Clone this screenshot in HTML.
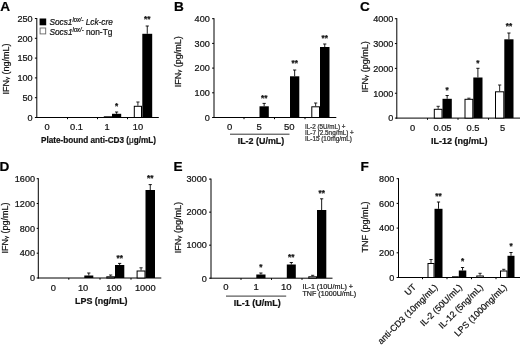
<!DOCTYPE html>
<html lang="en"><head><meta charset="utf-8"><title>Figure</title>
<style>html,body{margin:0;padding:0;background:#fff;}body{width:520px;height:345px;overflow:hidden;}svg{display:block;}text{font-family:"Liberation Sans", Arial, Helvetica, sans-serif;stroke:#111;stroke-width:0.22px;paint-order:stroke fill;}</style>
</head><body>
<svg width="520" height="345" viewBox="0 0 520 345">
<rect width="520" height="345" fill="#fff"/>
<text x="0.2" y="11.0" font-size="13.6" text-anchor="start" font-weight="bold" fill="#000">A</text>
<text x="174.1" y="11.0" font-size="13.6" text-anchor="start" font-weight="bold" fill="#000">B</text>
<text x="360.1" y="11.0" font-size="13.6" text-anchor="start" font-weight="bold" fill="#000">C</text>
<text x="-0.5" y="170.8" font-size="13.6" text-anchor="start" font-weight="bold" fill="#000">D</text>
<text x="173.6" y="171.1" font-size="13.6" text-anchor="start" font-weight="bold" fill="#000">E</text>
<text x="360.6" y="171.0" font-size="13.6" text-anchor="start" font-weight="bold" fill="#000">F</text>
<line x1="36.8" y1="18.0" x2="36.8" y2="118.0" stroke="#000" stroke-width="1.0"/>
<line x1="34.9" y1="117.5" x2="36.8" y2="117.5" stroke="#000" stroke-width="1"/>
<text x="32.599999999999994" y="120.8" font-size="9.1" text-anchor="end" fill="#111">0</text>
<line x1="34.9" y1="97.7" x2="36.8" y2="97.7" stroke="#000" stroke-width="1"/>
<text x="32.599999999999994" y="101.0" font-size="9.1" text-anchor="end" fill="#111">50</text>
<line x1="34.9" y1="77.9" x2="36.8" y2="77.9" stroke="#000" stroke-width="1"/>
<text x="32.599999999999994" y="81.2" font-size="9.1" text-anchor="end" fill="#111">100</text>
<line x1="34.9" y1="58.1" x2="36.8" y2="58.1" stroke="#000" stroke-width="1"/>
<text x="32.599999999999994" y="61.4" font-size="9.1" text-anchor="end" fill="#111">150</text>
<line x1="34.9" y1="38.3" x2="36.8" y2="38.3" stroke="#000" stroke-width="1"/>
<text x="32.599999999999994" y="41.6" font-size="9.1" text-anchor="end" fill="#111">200</text>
<line x1="34.9" y1="18.5" x2="36.8" y2="18.5" stroke="#000" stroke-width="1"/>
<text x="32.599999999999994" y="21.8" font-size="9.1" text-anchor="end" fill="#111">250</text>
<line x1="36.3" y1="117.5" x2="158.8" y2="117.5" stroke="#000" stroke-width="1.0"/>
<line x1="67.5" y1="117.5" x2="67.5" y2="119.2" stroke="#000" stroke-width="1"/>
<line x1="97.5" y1="117.5" x2="97.5" y2="119.2" stroke="#000" stroke-width="1"/>
<line x1="127.5" y1="117.5" x2="127.5" y2="119.2" stroke="#000" stroke-width="1"/>
<text transform="translate(8.5 69) rotate(-90)" font-size="9" text-anchor="middle" fill="#111">IFN<tspan font-size="6.2" dy="0.4">γ</tspan><tspan dy="-0.4"> (ng/mL)</tspan></text>
<text x="47" y="130.4" font-size="9.3" text-anchor="middle" fill="#111">0</text>
<text x="76.5" y="130.4" font-size="9.3" text-anchor="middle" fill="#111">0.1</text>
<text x="107" y="130.4" font-size="9.3" text-anchor="middle" fill="#111">1</text>
<text x="138" y="130.4" font-size="9.3" text-anchor="middle" fill="#111">10</text>
<text x="98.5" y="143.3" font-size="9" text-anchor="middle" font-weight="bold" fill="#111" textLength="115" lengthAdjust="spacingAndGlyphs">Plate-bound anti-CD3 (<tspan font-weight="normal">μ</tspan>g/mL)</text>
<rect x="104.3" y="116.8" width="7.200000000000003" height="0.7" fill="#fff" stroke="#000" stroke-width="1"/>
<rect x="112" y="113.8" width="9.200000000000003" height="3.7" fill="#000"/>
<line x1="116.6" y1="112" x2="116.6" y2="113.8" stroke="#000" stroke-width="0.9"/>
<line x1="115.0" y1="112" x2="118.19999999999999" y2="112" stroke="#000" stroke-width="0.9"/>
<text x="116.6" y="108.5" font-size="8.2" text-anchor="middle" font-weight="bold" fill="#111">*</text>
<rect x="134.3" y="106.3" width="7.199999999999989" height="11.2" fill="#fff" stroke="#000" stroke-width="1"/>
<line x1="137.9" y1="102" x2="137.9" y2="105.8" stroke="#111" stroke-width="0.9"/>
<line x1="136.3" y1="102" x2="139.5" y2="102" stroke="#111" stroke-width="0.9"/>
<rect x="142.3" y="33.8" width="9.899999999999977" height="83.7" fill="#000"/>
<line x1="147.25" y1="26" x2="147.25" y2="33.8" stroke="#000" stroke-width="0.9"/>
<line x1="145.65" y1="26" x2="148.85" y2="26" stroke="#000" stroke-width="0.9"/>
<text x="147.25" y="22.3" font-size="8.2" text-anchor="middle" font-weight="bold" fill="#111">**</text>
<rect x="39.6" y="18.5" width="6.6" height="6.8" fill="#000"/>
<rect x="40.1" y="28" width="5.6" height="5.9" fill="#fff" stroke="#666" stroke-width="0.9"/>
<text x="49.4" y="25.2" font-size="9" text-anchor="start" fill="#111" textLength="63.5" lengthAdjust="spacingAndGlyphs"><tspan font-style="italic">Socs1</tspan><tspan font-style="italic" font-size="6.3" dy="-3">lox/-</tspan><tspan dy="3"> </tspan><tspan font-style="italic">Lck-cre</tspan></text>
<text x="49.4" y="34.5" font-size="9" text-anchor="start" fill="#111" textLength="63" lengthAdjust="spacingAndGlyphs"><tspan font-style="italic">Socs1</tspan><tspan font-style="italic" font-size="6.3" dy="-3">lox/-</tspan><tspan dy="3"> </tspan>non-Tg</text>
<line x1="214" y1="18.2" x2="214" y2="118.0" stroke="#000" stroke-width="1.0"/>
<line x1="212.1" y1="117.5" x2="214" y2="117.5" stroke="#000" stroke-width="1"/>
<text x="209.8" y="120.8" font-size="9.1" text-anchor="end" fill="#111">0</text>
<line x1="212.1" y1="92.8" x2="214" y2="92.8" stroke="#000" stroke-width="1"/>
<text x="209.8" y="96.1" font-size="9.1" text-anchor="end" fill="#111">100</text>
<line x1="212.1" y1="68.1" x2="214" y2="68.1" stroke="#000" stroke-width="1"/>
<text x="209.8" y="71.4" font-size="9.1" text-anchor="end" fill="#111">200</text>
<line x1="212.1" y1="43.400000000000006" x2="214" y2="43.400000000000006" stroke="#000" stroke-width="1"/>
<text x="209.8" y="46.7" font-size="9.1" text-anchor="end" fill="#111">300</text>
<line x1="212.1" y1="18.700000000000003" x2="214" y2="18.700000000000003" stroke="#000" stroke-width="1"/>
<text x="209.8" y="22.0" font-size="9.1" text-anchor="end" fill="#111">400</text>
<line x1="213.5" y1="117.5" x2="336.3" y2="117.5" stroke="#000" stroke-width="1.0"/>
<line x1="244" y1="117.5" x2="244" y2="119.2" stroke="#000" stroke-width="1"/>
<line x1="274.5" y1="117.5" x2="274.5" y2="119.2" stroke="#000" stroke-width="1"/>
<line x1="305" y1="117.5" x2="305" y2="119.2" stroke="#000" stroke-width="1"/>
<text transform="translate(181 61.7) rotate(-90)" font-size="9" text-anchor="middle" fill="#111">IFN<tspan font-size="6.2" dy="0.4">γ</tspan><tspan dy="-0.4"> (pg/mL)</tspan></text>
<text x="229.6" y="130.4" font-size="9.5" text-anchor="middle" fill="#111">0</text>
<text x="259.2" y="130.4" font-size="9.5" text-anchor="middle" fill="#111">5</text>
<text x="289.3" y="130.4" font-size="9.5" text-anchor="middle" fill="#111">50</text>
<line x1="230" y1="134.2" x2="289.5" y2="134.2" stroke="#000" stroke-width="0.8"/>
<text x="261" y="144.4" font-size="9.3" text-anchor="middle" font-weight="bold" fill="#111" textLength="46.6" lengthAdjust="spacingAndGlyphs">IL-2 (U/mL)</text>
<rect x="259.5" y="106.3" width="9.300000000000011" height="11.2" fill="#000"/>
<line x1="264.15" y1="103.4" x2="264.15" y2="106.3" stroke="#000" stroke-width="0.9"/>
<line x1="262.54999999999995" y1="103.4" x2="265.75" y2="103.4" stroke="#000" stroke-width="0.9"/>
<text x="264.15" y="100.5" font-size="8.2" text-anchor="middle" font-weight="bold" fill="#111">**</text>
<rect x="290" y="76.3" width="9.300000000000011" height="41.2" fill="#000"/>
<line x1="294.65" y1="70" x2="294.65" y2="76.3" stroke="#000" stroke-width="0.9"/>
<line x1="293.04999999999995" y1="70" x2="296.25" y2="70" stroke="#000" stroke-width="0.9"/>
<text x="294.65" y="66.39999999999999" font-size="8.2" text-anchor="middle" font-weight="bold" fill="#111">**</text>
<rect x="311.8" y="106.8" width="7.699999999999989" height="10.7" fill="#fff" stroke="#000" stroke-width="1"/>
<line x1="315.65" y1="103" x2="315.65" y2="106.3" stroke="#111" stroke-width="0.9"/>
<line x1="314.04999999999995" y1="103" x2="317.25" y2="103" stroke="#111" stroke-width="0.9"/>
<rect x="320" y="47" width="9.5" height="70.5" fill="#000"/>
<line x1="324.75" y1="44" x2="324.75" y2="47" stroke="#000" stroke-width="0.9"/>
<line x1="323.15" y1="44" x2="326.35" y2="44" stroke="#000" stroke-width="0.9"/>
<text x="324.75" y="40.5" font-size="8.2" text-anchor="middle" font-weight="bold" fill="#111">**</text>
<text x="305" y="128.6" font-size="6.8" text-anchor="start" fill="#333" textLength="40.5" lengthAdjust="spacingAndGlyphs" stroke="none">IL-2 (5U/mL) +</text>
<text x="305" y="135.0" font-size="6.8" text-anchor="start" fill="#333" textLength="48.8" lengthAdjust="spacingAndGlyphs" stroke="none">IL-7 (2.5ng/mL) +</text>
<text x="305" y="141.4" font-size="6.8" text-anchor="start" fill="#333" textLength="47" lengthAdjust="spacingAndGlyphs" stroke="none">IL-15 (10mg/mL)</text>
<line x1="396.8" y1="18.2" x2="396.8" y2="118.6" stroke="#000" stroke-width="1.0"/>
<line x1="394.90000000000003" y1="118.1" x2="396.8" y2="118.1" stroke="#000" stroke-width="1"/>
<text x="393.40000000000003" y="121.4" font-size="9.1" text-anchor="end" fill="#111">0</text>
<line x1="394.90000000000003" y1="93.25" x2="396.8" y2="93.25" stroke="#000" stroke-width="1"/>
<text x="393.40000000000003" y="96.55" font-size="9.1" text-anchor="end" fill="#111">1000</text>
<line x1="394.90000000000003" y1="68.4" x2="396.8" y2="68.4" stroke="#000" stroke-width="1"/>
<text x="393.40000000000003" y="71.7" font-size="9.1" text-anchor="end" fill="#111">2000</text>
<line x1="394.90000000000003" y1="43.55" x2="396.8" y2="43.55" stroke="#000" stroke-width="1"/>
<text x="393.40000000000003" y="46.85" font-size="9.1" text-anchor="end" fill="#111">3000</text>
<line x1="394.90000000000003" y1="18.700000000000003" x2="396.8" y2="18.700000000000003" stroke="#000" stroke-width="1"/>
<text x="393.40000000000003" y="22.0" font-size="9.1" text-anchor="end" fill="#111">4000</text>
<line x1="396.3" y1="118.1" x2="520" y2="118.1" stroke="#000" stroke-width="1.0"/>
<line x1="427.5" y1="118.1" x2="427.5" y2="119.8" stroke="#000" stroke-width="1"/>
<line x1="458" y1="118.1" x2="458" y2="119.8" stroke="#000" stroke-width="1"/>
<line x1="488.5" y1="118.1" x2="488.5" y2="119.8" stroke="#000" stroke-width="1"/>
<text transform="translate(368.0 66.9) rotate(-90)" font-size="9" text-anchor="middle" fill="#111">IFN<tspan font-size="6.2" dy="0.4">γ</tspan><tspan dy="-0.4"> (pg/mL)</tspan></text>
<text x="412.5" y="130.7" font-size="9.3" text-anchor="middle" fill="#111">0</text>
<text x="442.5" y="130.7" font-size="9.3" text-anchor="middle" fill="#111">0.05</text>
<text x="473" y="130.7" font-size="9.3" text-anchor="middle" fill="#111">0.5</text>
<text x="502.5" y="130.7" font-size="9.3" text-anchor="middle" fill="#111">5</text>
<text x="459.2" y="144.2" font-size="9" text-anchor="middle" font-weight="bold" fill="#111" textLength="56.5" lengthAdjust="spacingAndGlyphs">IL-12 (ng/mL)</text>
<rect x="434.3" y="109.3" width="7.699999999999989" height="8.8" fill="#fff" stroke="#000" stroke-width="1"/>
<line x1="438.15" y1="106.3" x2="438.15" y2="108.8" stroke="#111" stroke-width="0.9"/>
<line x1="436.54999999999995" y1="106.3" x2="439.75" y2="106.3" stroke="#111" stroke-width="0.9"/>
<rect x="442.5" y="98.8" width="9.300000000000011" height="19.3" fill="#000"/>
<line x1="447.15" y1="95.5" x2="447.15" y2="98.8" stroke="#000" stroke-width="0.9"/>
<line x1="445.54999999999995" y1="95.5" x2="448.75" y2="95.5" stroke="#000" stroke-width="0.9"/>
<text x="447.15" y="93.0" font-size="8.2" text-anchor="middle" font-weight="bold" fill="#111">*</text>
<rect x="465.0" y="99.3" width="7.800000000000011" height="18.8" fill="#fff" stroke="#000" stroke-width="1"/>
<line x1="468.9" y1="98.2" x2="468.9" y2="98.8" stroke="#111" stroke-width="0.9"/>
<line x1="467.29999999999995" y1="98.2" x2="470.5" y2="98.2" stroke="#111" stroke-width="0.9"/>
<rect x="473.3" y="77.5" width="9.199999999999989" height="40.6" fill="#000"/>
<line x1="477.9" y1="68.3" x2="477.9" y2="77.5" stroke="#000" stroke-width="0.9"/>
<line x1="476.29999999999995" y1="68.3" x2="479.5" y2="68.3" stroke="#000" stroke-width="0.9"/>
<text x="477.9" y="65.5" font-size="8.2" text-anchor="middle" font-weight="bold" fill="#111">*</text>
<rect x="495.5" y="91.8" width="8.300000000000011" height="26.3" fill="#fff" stroke="#000" stroke-width="1"/>
<line x1="499.65" y1="85" x2="499.65" y2="91.3" stroke="#111" stroke-width="0.9"/>
<line x1="498.04999999999995" y1="85" x2="501.25" y2="85" stroke="#111" stroke-width="0.9"/>
<rect x="504.3" y="39.3" width="9.199999999999989" height="78.8" fill="#000"/>
<line x1="508.9" y1="33" x2="508.9" y2="39.3" stroke="#000" stroke-width="0.9"/>
<line x1="507.29999999999995" y1="33" x2="510.5" y2="33" stroke="#000" stroke-width="0.9"/>
<text x="508.9" y="28.900000000000002" font-size="8.2" text-anchor="middle" font-weight="bold" fill="#111">**</text>
<line x1="38.3" y1="178.2" x2="38.3" y2="278.5" stroke="#000" stroke-width="1.0"/>
<line x1="36.699999999999996" y1="278.0" x2="38.3" y2="278.0" stroke="#000" stroke-width="1"/>
<text x="35.0" y="281.3" font-size="9.1" text-anchor="end" fill="#111">0</text>
<line x1="36.699999999999996" y1="253.175" x2="38.3" y2="253.175" stroke="#000" stroke-width="1"/>
<text x="35.0" y="256.48" font-size="9.1" text-anchor="end" fill="#111">400</text>
<line x1="36.699999999999996" y1="228.35" x2="38.3" y2="228.35" stroke="#000" stroke-width="1"/>
<text x="35.0" y="231.65" font-size="9.1" text-anchor="end" fill="#111">800</text>
<line x1="36.699999999999996" y1="203.52499999999998" x2="38.3" y2="203.52499999999998" stroke="#000" stroke-width="1"/>
<text x="35.0" y="206.82" font-size="9.1" text-anchor="end" fill="#111">1200</text>
<line x1="36.699999999999996" y1="178.7" x2="38.3" y2="178.7" stroke="#000" stroke-width="1"/>
<text x="35.0" y="182.0" font-size="9.1" text-anchor="end" fill="#111">1600</text>
<line x1="37.8" y1="278" x2="161.3" y2="278" stroke="#000" stroke-width="1.0"/>
<line x1="68.8" y1="278" x2="68.8" y2="279.7" stroke="#000" stroke-width="1"/>
<line x1="100" y1="278" x2="100" y2="279.7" stroke="#000" stroke-width="1"/>
<line x1="131" y1="278" x2="131" y2="279.7" stroke="#000" stroke-width="1"/>
<text transform="translate(7.6 228) rotate(-90)" font-size="9" text-anchor="middle" fill="#111">IFN<tspan font-size="6.2" dy="0.4">γ</tspan><tspan dy="-0.4"> (pg/mL)</tspan></text>
<text x="53.3" y="290.9" font-size="9.3" text-anchor="middle" fill="#111">0</text>
<text x="83.1" y="290.9" font-size="9.3" text-anchor="middle" fill="#111">10</text>
<text x="114" y="290.9" font-size="9.3" text-anchor="middle" fill="#111">100</text>
<text x="145.3" y="290.9" font-size="9.3" text-anchor="middle" fill="#111">1000</text>
<text x="101.3" y="304" font-size="9" text-anchor="middle" font-weight="bold" fill="#111" textLength="52.5" lengthAdjust="spacingAndGlyphs">LPS (ng/mL)</text>
<rect x="84.3" y="275.5" width="9.0" height="2.5" fill="#000"/>
<line x1="88.8" y1="273" x2="88.8" y2="275.5" stroke="#000" stroke-width="0.9"/>
<line x1="87.2" y1="273" x2="90.39999999999999" y2="273" stroke="#000" stroke-width="0.9"/>
<rect x="106.8" y="276.8" width="7.700000000000003" height="1.2" fill="#fff" stroke="#000" stroke-width="1"/>
<line x1="110.65" y1="275" x2="110.65" y2="276.3" stroke="#111" stroke-width="0.9"/>
<line x1="109.05000000000001" y1="275" x2="112.25" y2="275" stroke="#111" stroke-width="0.9"/>
<rect x="115" y="265" width="9.299999999999997" height="13" fill="#000"/>
<line x1="119.65" y1="263.4" x2="119.65" y2="265" stroke="#000" stroke-width="0.9"/>
<line x1="118.05000000000001" y1="263.4" x2="121.25" y2="263.4" stroke="#000" stroke-width="0.9"/>
<text x="119.65" y="261.0" font-size="8.2" text-anchor="middle" font-weight="bold" fill="#111">**</text>
<rect x="137.1" y="271.0" width="7.900000000000006" height="7.0" fill="#fff" stroke="#000" stroke-width="1"/>
<line x1="141.05" y1="267.8" x2="141.05" y2="270.5" stroke="#111" stroke-width="0.9"/>
<line x1="139.45000000000002" y1="267.8" x2="142.65" y2="267.8" stroke="#111" stroke-width="0.9"/>
<rect x="145.5" y="190" width="9.5" height="88" fill="#000"/>
<line x1="150.25" y1="184.6" x2="150.25" y2="190" stroke="#000" stroke-width="0.9"/>
<line x1="148.65" y1="184.6" x2="151.85" y2="184.6" stroke="#000" stroke-width="0.9"/>
<text x="150.25" y="181.0" font-size="8.2" text-anchor="middle" font-weight="bold" fill="#111">**</text>
<line x1="211.0" y1="178.6" x2="211.0" y2="278.7" stroke="#000" stroke-width="1.0"/>
<line x1="209.1" y1="278.2" x2="211.0" y2="278.2" stroke="#000" stroke-width="1"/>
<text x="206.8" y="281.5" font-size="9.1" text-anchor="end" fill="#111">0</text>
<line x1="209.1" y1="245.16666666666666" x2="211.0" y2="245.16666666666666" stroke="#000" stroke-width="1"/>
<text x="206.8" y="248.47" font-size="9.1" text-anchor="end" fill="#111">1000</text>
<line x1="209.1" y1="212.13333333333333" x2="211.0" y2="212.13333333333333" stroke="#000" stroke-width="1"/>
<text x="206.8" y="215.43" font-size="9.1" text-anchor="end" fill="#111">2000</text>
<line x1="209.1" y1="179.10000000000002" x2="211.0" y2="179.10000000000002" stroke="#000" stroke-width="1"/>
<text x="206.8" y="182.4" font-size="9.1" text-anchor="end" fill="#111">3000</text>
<line x1="210.5" y1="278.2" x2="332.5" y2="278.2" stroke="#000" stroke-width="1.0"/>
<line x1="241" y1="278.2" x2="241" y2="279.9" stroke="#000" stroke-width="1"/>
<line x1="271.5" y1="278.2" x2="271.5" y2="279.9" stroke="#000" stroke-width="1"/>
<line x1="302" y1="278.2" x2="302" y2="279.9" stroke="#000" stroke-width="1"/>
<text transform="translate(180.6 227.6) rotate(-90)" font-size="9" text-anchor="middle" fill="#111">IFN<tspan font-size="6.2" dy="0.4">γ</tspan><tspan dy="-0.4"> (pg/mL)</tspan></text>
<text x="225.8" y="290.3" font-size="9.5" text-anchor="middle" fill="#111">0</text>
<text x="256.2" y="290.3" font-size="9.5" text-anchor="middle" fill="#111">1</text>
<text x="286.3" y="290.3" font-size="9.5" text-anchor="middle" fill="#111">10</text>
<line x1="226" y1="296.1" x2="286.2" y2="296.1" stroke="#000" stroke-width="0.8"/>
<text x="257.3" y="305.8" font-size="9.3" text-anchor="middle" font-weight="bold" fill="#111" textLength="47" lengthAdjust="spacingAndGlyphs">IL-1 (U/mL)</text>
<rect x="256.3" y="274.5" width="9.199999999999989" height="3.7" fill="#000"/>
<line x1="260.9" y1="273" x2="260.9" y2="274.5" stroke="#000" stroke-width="0.9"/>
<line x1="259.29999999999995" y1="273" x2="262.5" y2="273" stroke="#000" stroke-width="0.9"/>
<text x="260.9" y="269.8" font-size="8.2" text-anchor="middle" font-weight="bold" fill="#111">*</text>
<rect x="286.8" y="264.5" width="9.0" height="13.7" fill="#000"/>
<line x1="291.3" y1="262.5" x2="291.3" y2="264.5" stroke="#000" stroke-width="0.9"/>
<line x1="289.7" y1="262.5" x2="292.90000000000003" y2="262.5" stroke="#000" stroke-width="0.9"/>
<text x="291.3" y="259.8" font-size="8.2" text-anchor="middle" font-weight="bold" fill="#111">**</text>
<rect x="308.8" y="276.8" width="7.699999999999989" height="1.4" fill="#fff" stroke="#000" stroke-width="1"/>
<line x1="312.65" y1="275.3" x2="312.65" y2="276.3" stroke="#111" stroke-width="0.9"/>
<line x1="311.04999999999995" y1="275.3" x2="314.25" y2="275.3" stroke="#111" stroke-width="0.9"/>
<rect x="317" y="210" width="9.300000000000011" height="68.2" fill="#000"/>
<line x1="321.65" y1="198.8" x2="321.65" y2="210" stroke="#000" stroke-width="0.9"/>
<line x1="320.04999999999995" y1="198.8" x2="323.25" y2="198.8" stroke="#000" stroke-width="0.9"/>
<text x="321.65" y="195.8" font-size="8.2" text-anchor="middle" font-weight="bold" fill="#111">**</text>
<text x="302.5" y="289.1" font-size="7.6" text-anchor="start" fill="#1a1a1a" textLength="50.5" lengthAdjust="spacingAndGlyphs">IL-1 (10U/mL) +</text>
<text x="302.5" y="296.1" font-size="7.6" text-anchor="start" fill="#1a1a1a" textLength="53.6" lengthAdjust="spacingAndGlyphs">TNF (1000U/mL)</text>
<line x1="398.5" y1="178.2" x2="398.5" y2="278.0" stroke="#000" stroke-width="1.0"/>
<line x1="396.6" y1="277.5" x2="398.5" y2="277.5" stroke="#000" stroke-width="1"/>
<text x="394.3" y="280.8" font-size="9.1" text-anchor="end" fill="#111">0</text>
<line x1="396.6" y1="252.8" x2="398.5" y2="252.8" stroke="#000" stroke-width="1"/>
<text x="394.3" y="256.1" font-size="9.1" text-anchor="end" fill="#111">200</text>
<line x1="396.6" y1="228.1" x2="398.5" y2="228.1" stroke="#000" stroke-width="1"/>
<text x="394.3" y="231.4" font-size="9.1" text-anchor="end" fill="#111">400</text>
<line x1="396.6" y1="203.39999999999998" x2="398.5" y2="203.39999999999998" stroke="#000" stroke-width="1"/>
<text x="394.3" y="206.7" font-size="9.1" text-anchor="end" fill="#111">600</text>
<line x1="396.6" y1="178.7" x2="398.5" y2="178.7" stroke="#000" stroke-width="1"/>
<text x="394.3" y="182.0" font-size="9.1" text-anchor="end" fill="#111">800</text>
<line x1="398.0" y1="277.5" x2="520" y2="277.5" stroke="#000" stroke-width="1.0"/>
<line x1="422.5" y1="277.5" x2="422.5" y2="279.2" stroke="#000" stroke-width="1"/>
<line x1="447" y1="277.5" x2="447" y2="279.2" stroke="#000" stroke-width="1"/>
<line x1="471.5" y1="277.5" x2="471.5" y2="279.2" stroke="#000" stroke-width="1"/>
<line x1="496" y1="277.5" x2="496" y2="279.2" stroke="#000" stroke-width="1"/>
<text transform="translate(368.0 227.1) rotate(-90)" font-size="9" text-anchor="middle" fill="#111">TNF (pg/mL)</text>
<rect x="428.0" y="263.5" width="6.0" height="14.0" fill="#fff" stroke="#000" stroke-width="1"/>
<line x1="431.0" y1="259.5" x2="431.0" y2="263" stroke="#111" stroke-width="0.9"/>
<line x1="429.4" y1="259.5" x2="432.6" y2="259.5" stroke="#111" stroke-width="0.9"/>
<rect x="434.5" y="208.8" width="8.0" height="68.7" fill="#000"/>
<line x1="438.5" y1="202" x2="438.5" y2="208.8" stroke="#000" stroke-width="0.9"/>
<line x1="436.9" y1="202" x2="440.1" y2="202" stroke="#000" stroke-width="0.9"/>
<text x="438.5" y="198.5" font-size="8.2" text-anchor="middle" font-weight="bold" fill="#111">**</text>
<rect x="452.5" y="276.8" width="5.800000000000011" height="0.7" fill="#fff" stroke="#000" stroke-width="1"/>
<rect x="458.8" y="270.5" width="7.5" height="7.0" fill="#000"/>
<line x1="462.55" y1="267.5" x2="462.55" y2="270.5" stroke="#000" stroke-width="0.9"/>
<line x1="460.95" y1="267.5" x2="464.15000000000003" y2="267.5" stroke="#000" stroke-width="0.9"/>
<text x="462.55" y="263.8" font-size="8.2" text-anchor="middle" font-weight="bold" fill="#111">*</text>
<rect x="476.8" y="276.0" width="6.5" height="1.5" fill="#fff" stroke="#000" stroke-width="1"/>
<line x1="480.05" y1="273.3" x2="480.05" y2="275.5" stroke="#111" stroke-width="0.9"/>
<line x1="478.45" y1="273.3" x2="481.65000000000003" y2="273.3" stroke="#111" stroke-width="0.9"/>
<rect x="500.5" y="271.0" width="6.5" height="6.5" fill="#fff" stroke="#000" stroke-width="1"/>
<line x1="503.75" y1="269.3" x2="503.75" y2="270.5" stroke="#111" stroke-width="0.9"/>
<line x1="502.15" y1="269.3" x2="505.35" y2="269.3" stroke="#111" stroke-width="0.9"/>
<rect x="507.5" y="255.8" width="7.0" height="21.7" fill="#000"/>
<line x1="511.0" y1="252.5" x2="511.0" y2="255.8" stroke="#000" stroke-width="0.9"/>
<line x1="509.4" y1="252.5" x2="512.6" y2="252.5" stroke="#000" stroke-width="0.9"/>
<text x="511.0" y="249.4" font-size="8.2" text-anchor="middle" font-weight="bold" fill="#111">*</text>
<text transform="translate(416.6 287.6) rotate(-45)" font-size="8.9" text-anchor="end" fill="#111">UT</text>
<text transform="translate(438.2 287.8) rotate(-45)" font-size="8.9" text-anchor="end" fill="#111">anti-CD3 (10mg/mL)</text>
<text transform="translate(462.5 288) rotate(-45)" font-size="8.9" text-anchor="end" fill="#111">IL-2 (50U/mL)</text>
<text transform="translate(483.5 288) rotate(-45)" font-size="8.9" text-anchor="end" fill="#111">IL-12 (5ng/mL)</text>
<text transform="translate(507.3 287.8) rotate(-45)" font-size="8.9" text-anchor="end" fill="#111">LPS (1000ng/mL)</text>
</svg>
</body></html>
